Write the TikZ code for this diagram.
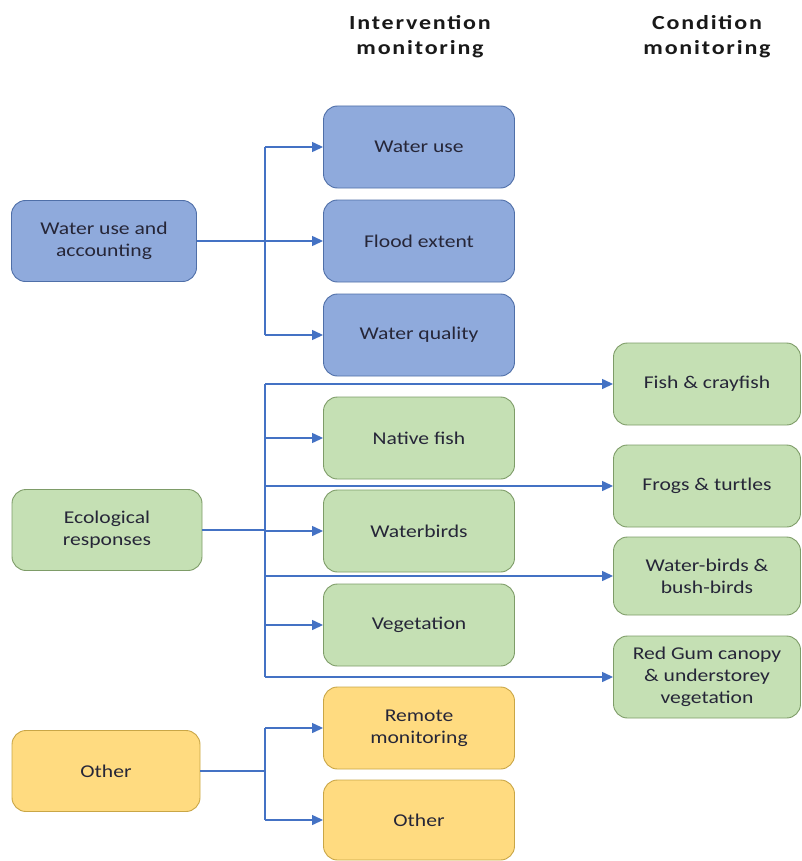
\documentclass[tikz,border=0pt]{standalone}
\usepackage{fontspec}
\setmainfont{Carlito}[FakeStretch=1.2]
\newfontfamily\headfont{Carlito}[FakeStretch=1.2, LetterSpace=9]
\usetikzlibrary{arrows.meta}
\definecolor{bfill}{HTML}{8FAADC}
\definecolor{bdraw}{HTML}{4F6FA8}
\definecolor{gfill}{HTML}{C5E0B4}
\definecolor{gdraw}{HTML}{7E9C68}
\definecolor{yfill}{HTML}{FFDB80}
\definecolor{ydraw}{HTML}{C9A646}
\definecolor{arr}{HTML}{4472C4}
\definecolor{txt}{HTML}{262638}
\tikzset{
  box/.style={draw, line width=0.9pt, rounded corners=14pt, align=center, inner sep=2pt,
    font=\fontsize{18}{22}\selectfont, text=txt},
  leftbox/.style={box, minimum width=185pt, minimum height=81pt},
  midbox/.style={box, minimum width=191pt, minimum height=82pt},
  rightbox/.style={box, minimum width=187pt, minimum height=82pt},
  bluebox/.style={fill=bfill, draw=bdraw},
  greenbox/.style={fill=gfill, draw=gdraw},
  yellowbox/.style={fill=yfill, draw=ydraw},
  conn/.style={draw=arr, line width=1.3pt},
  arrowc/.style={conn, -{Triangle[length=11pt,width=10pt]}},
  head/.style={font=\headfont\bfseries\fontsize{20}{25}\selectfont, align=center, text=black!90}
}
\begin{document}
\begin{tikzpicture}[x=1pt,y=-1pt]
\useasboundingbox (0,0) rectangle (801,861);
% headings
\node[head] (h1) at (420,37) {Intervention\\monitoring};
\node[head] (h2) at (707,37) {Condition\\monitoring};
% left boxes
\node[leftbox,bluebox] (wua) at (104,241) {Water use and\\accounting};
\node[leftbox,greenbox, minimum width=190pt] (eco) at (107,530) {Ecological\\responses};
\node[leftbox,yellowbox, minimum width=188pt] (oth) at (106,771) {Other};
% middle boxes
\node[midbox,bluebox] (wu) at (419,147) {Water use};
\node[midbox,bluebox] (fe) at (419,241) {Flood extent};
\node[midbox,bluebox] (wq) at (419,335) {Water quality};
\node[midbox,greenbox] (nf) at (419,438) {Native fish};
\node[midbox,greenbox] (wb) at (419,531) {Waterbirds};
\node[midbox,greenbox] (veg) at (419,625) {Vegetation};
\node[midbox,yellowbox] (rm) at (419,728) {Remote\\monitoring};
\node[midbox,yellowbox, minimum height=80pt] (oth2) at (419,820) {Other};
% right boxes
\node[rightbox,greenbox] (fc) at (707,384) {Fish \& crayfish};
\node[rightbox,greenbox] (ft) at (707,486) {Frogs \& turtles};
\node[rightbox,greenbox, minimum height=78pt] (bb) at (707,576) {Water-birds \&\\bush-birds};
\node[rightbox,greenbox] (rg) at (707,677) {Red Gum canopy\\\& understorey\\vegetation};
% trunk coordinates
\coordinate (t1a) at (265,147);
\coordinate (t1b) at (265,335);
\coordinate (t2a) at (265,384);
\coordinate (t2b) at (265,677);
\coordinate (t3a) at (265,728);
\coordinate (t3b) at (265,820);
% group 1
\draw[conn] (t1a) -- (t1b);
\draw[arrowc] (wua.east) -- (fe.west);
\draw[arrowc] (t1a) -- (wu.west);
\draw[arrowc] (t1b) -- (wq.west);
% group 2
\draw[conn] (t2a) -- (t2b);
\draw[conn] (eco.east) -- (eco.east -| t2a);
\draw[arrowc] (t2a) -- (fc.west);
\draw[arrowc] (nf.west -| t2a) -- (nf.west);
\draw[arrowc] (ft.west -| t2a) -- (ft.west);
\draw[arrowc] (wb.west -| t2a) -- (wb.west);
\draw[arrowc] (bb.west -| t2a) -- (bb.west);
\draw[arrowc] (veg.west -| t2a) -- (veg.west);
\draw[arrowc] (t2b) -- (rg.west);
% group 3
\draw[conn] (t3a) -- (t3b);
\draw[conn] (oth.east) -- (oth.east -| t3a);
\draw[arrowc] (t3a) -- (rm.west);
\draw[arrowc] (t3b) -- (oth2.west);
\end{tikzpicture}
\end{document}
